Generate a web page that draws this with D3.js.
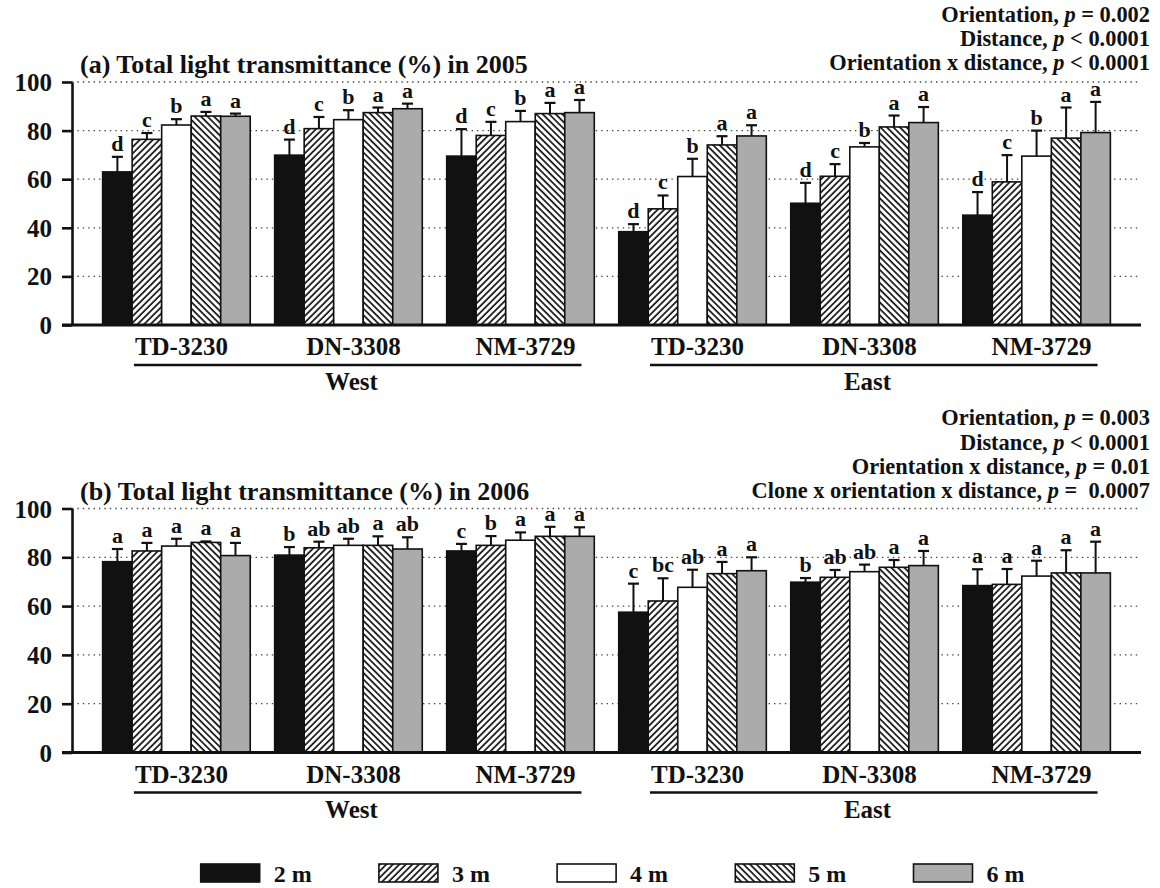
<!DOCTYPE html>
<html>
<head>
<meta charset="utf-8">
<script src="https://cdn.jsdelivr.net/npm/d3@7"></script>
<style>
  html, body { margin: 0; padding: 0; background: #fff; }
  svg { display: block; }
  text { font-family: "Liberation Serif", "Times New Roman", serif; font-weight: bold; fill: #111; }
</style>
</head>
<body>
<svg id="chart" width="1160" height="888"></svg>
<script>
// ---- data -------------------------------------------------------------
const clones = ["TD-3230", "DN-3308", "NM-3729", "TD-3230", "DN-3308", "NM-3729"];
const orientations = ["West", "East"];
const distances = ["2 m", "3 m", "4 m", "5 m", "6 m"];
const yTicks = [0, 20, 40, 60, 80, 100];

// mean transmittance (%) per clone group, one value per distance
const mean2005 = [
  [63.0, 76.4, 82.3, 86.0, 85.9],
  [69.9, 80.8, 84.5, 87.4, 89.0],
  [69.5, 78.0, 83.7, 87.0, 87.4],
  [38.4, 47.8, 61.1, 74.1, 77.8],
  [50.1, 61.2, 73.3, 81.5, 83.3],
  [45.2, 58.9, 69.5, 76.9, 79.2]
];
const err2005 = [
  [6.2, 2.6, 2.4, 1.7, 1.1],
  [6.4, 4.8, 3.9, 2.1, 2.1],
  [11.1, 5.6, 4.4, 4.4, 5.2],
  [3.1, 5.5, 7.3, 3.6, 4.4],
  [8.4, 5.0, 1.6, 4.7, 6.4],
  [9.5, 11.0, 10.5, 12.6, 12.6]
];
const letters2005 = [
  ["d", "c", "b", "a", "a"],
  ["d", "c", "b", "a", "a"],
  ["d", "c", "b", "a", "a"],
  ["d", "c", "b", "a", "a"],
  ["d", "c", "b", "a", "a"],
  ["d", "c", "b", "a", "a"]
];

const mean2006 = [
  [78.2, 82.6, 84.6, 86.1, 80.7],
  [80.9, 83.9, 84.9, 84.9, 83.4],
  [82.6, 84.9, 87.0, 88.6, 88.6],
  [57.5, 62.1, 67.7, 73.3, 74.5],
  [69.8, 71.8, 74.1, 75.9, 76.6],
  [68.4, 68.9, 72.3, 73.6, 73.6]
];
const err2006 = [
  [5.2, 3.3, 3.0, 0.4, 5.2],
  [3.3, 2.5, 2.7, 3.7, 4.8],
  [2.9, 3.8, 3.2, 3.9, 3.7],
  [11.7, 9.3, 7.2, 4.8, 5.5],
  [1.7, 3.0, 2.9, 3.0, 6.0],
  [6.7, 6.3, 6.3, 9.3, 12.8]
];
const letters2006 = [
  ["a", "a", "a", "a", "a"],
  ["b", "ab", "ab", "a", "ab"],
  ["c", "b", "a", "a", "a"],
  ["c", "bc", "ab", "a", "a"],
  ["b", "ab", "ab", "a", "a"],
  ["a", "a", "a", "a", "a"]
];

const titles = ["(a) Total light transmittance (%) in 2005", "(b) Total light transmittance (%) in 2006"];
const stats2005 = [
  ["Orientation, ", "=", "0.002"],
  ["Distance, ", "<", "0.0001"],
  ["Orientation x distance, ", "<", "0.0001"]
];
const stats2006 = [
  ["Orientation, ", "=", "0.003"],
  ["Distance, ", "<", "0.0001"],
  ["Orientation x distance, ", "=", "0.01"],
  ["Clone x orientation x distance, ", "=", "\u00a00.0007"]
];

// ---- layout -----------------------------------------------------------
const svg = d3.select("#chart");
const axisX = 72, plotRight = 1141;

const x0 = d3.scaleBand()
  .domain(d3.range(clones.length))
  .range([axisX, plotRight])
  .paddingInner(0.142)
  .paddingOuter(0.178);
const x1 = d3.scaleBand()
  .domain(distances)
  .range([0, x0.bandwidth()])
  .padding(0);

// fills for the five distances
const defs = svg.append("defs");
function hatch(id, angle) {
  const p = defs.append("pattern")
    .attr("id", id)
    .attr("patternUnits", "userSpaceOnUse")
    .attr("width", 4.6).attr("height", 10)
    .attr("patternTransform", `rotate(${angle})`);
  p.append("rect").attr("width", 4.6).attr("height", 10).attr("fill", "#fff");
  p.append("line").attr("x1", 1).attr("x2", 1).attr("y1", 0).attr("y2", 10)
    .attr("stroke", "#111").attr("stroke-width", 1.7);
}
hatch("hatchFwd", 45);
hatch("hatchBack", -45);
const fills = ["#111", "url(#hatchFwd)", "#fff", "url(#hatchBack)", "#ababab"];

function panel(cfg) {
  const { y0, y100, means, errs, letters, title, stats, statsY } = cfg;
  const y = d3.scaleLinear().domain([0, 100]).range([y0, y100]);
  const g = svg.append("g");

  // dotted reference lines
  g.append("g").selectAll("line")
    .data(yTicks.filter(d => d > 0))
    .join("line")
    .attr("x1", axisX).attr("x2", plotRight)
    .attr("y1", d => y(d)).attr("y2", d => y(d))
    .attr("stroke", "#444").attr("stroke-width", 1.3)
    .attr("stroke-dasharray", "1.4,4");

  // bars
  const groups = g.append("g").selectAll("g")
    .data(means.map((row, i) => ({ i, row })))
    .join("g")
    .attr("transform", d => `translate(${x0(d.i)},0)`);

  groups.selectAll("rect")
    .data(d => d.row.map((v, j) => ({ v, j })))
    .join("rect")
    .attr("x", d => x1(distances[d.j]))
    .attr("y", d => y(d.v))
    .attr("width", x1.bandwidth())
    .attr("height", d => y(0) - y(d.v))
    .attr("fill", d => fills[d.j])
    .attr("stroke", "#111").attr("stroke-width", 1.6);

  // error bars (upper half) with caps
  const eb = groups.selectAll("g.err")
    .data(d => d.row.map((v, j) => ({ v, e: errs[d.i][j], L: letters[d.i][j], j })))
    .join("g").attr("class", "err")
    .attr("transform", d => `translate(${x1(distances[d.j]) + x1.bandwidth() / 2},0)`);
  eb.append("line")
    .attr("x1", 0).attr("x2", 0)
    .attr("y1", d => y(d.v)).attr("y2", d => y(d.v + d.e))
    .attr("stroke", "#111").attr("stroke-width", 2);
  eb.append("line")
    .attr("x1", -5.5).attr("x2", 5.5)
    .attr("y1", d => y(d.v + d.e)).attr("y2", d => y(d.v + d.e))
    .attr("stroke", "#111").attr("stroke-width", 2.2);
  eb.append("text")
    .attr("x", 0).attr("y", d => y(d.v + d.e) - 6)
    .attr("text-anchor", "middle")
    .attr("font-size", 22)
    .text(d => d.L);

  // y axis
  const yAxis = d3.axisLeft(y).tickValues(yTicks).tickSize(10).tickSizeOuter(0).tickPadding(10);
  const ya = g.append("g").attr("transform", `translate(${axisX},0)`).call(yAxis);
  ya.select(".domain").attr("stroke", "#111").attr("stroke-width", 2.6);
  ya.selectAll(".tick line").attr("stroke", "#111").attr("stroke-width", 2.6);
  ya.selectAll(".tick text")
    .attr("font-family", "'Liberation Serif', 'Times New Roman', serif")
    .attr("font-weight", "bold").attr("font-size", 25).attr("fill", "#111")
    .attr("dy", "0.34em");

  // baseline
  g.append("line")
    .attr("x1", axisX - 10).attr("x2", plotRight)
    .attr("y1", y(0)).attr("y2", y(0))
    .attr("stroke", "#111").attr("stroke-width", 3);

  // clone labels
  const labels = g.append("g").selectAll("text")
    .data(clones)
    .join("text")
    .attr("x", (d, i) => x0(i) + x0.bandwidth() / 2 + 5)
    .attr("y", y(0) + 30)
    .attr("text-anchor", "middle")
    .attr("font-size", 25)
    .text(d => d);
  const boxes = labels.nodes().map(n => n.getBBox());

  // orientation brackets
  orientations.forEach((o, k) => {
    const first = k * 3, last = k * 3 + 2;
    const xs = boxes[first].x - 1, xe = boxes[last].x + boxes[last].width + 6;
    g.append("line")
      .attr("x1", xs).attr("x2", xe)
      .attr("y1", y(0) + 40).attr("y2", y(0) + 40)
      .attr("stroke", "#111").attr("stroke-width", 2.6);
    const cx = (x0(first) + x0(last) + x0.bandwidth()) / 2 + 3;
    g.append("text")
      .attr("x", cx).attr("y", y(0) + 65)
      .attr("text-anchor", "middle")
      .attr("font-size", 25)
      .text(o);
  });

  // title
  g.append("text")
    .attr("x", 80).attr("y", y100 - 9)
    .attr("font-size", 26)
    .text(title);

  // statistics block, right aligned
  const st = g.append("g").selectAll("text")
    .data(stats)
    .join("text")
    .attr("x", 1150)
    .attr("y", (d, i) => statsY[i])
    .attr("text-anchor", "end")
    .attr("font-size", 22.4)
    .attr("xml:space", "preserve");
  st.append("tspan").text(d => d[0]);
  st.append("tspan").attr("font-style", "italic").text("p");
  st.append("tspan").text(d => " " + d[1] + " " + d[2]);
}

panel({
  y0: 325, y100: 82, means: mean2005, errs: err2005, letters: letters2005,
  title: titles[0], stats: stats2005, statsY: [22, 46, 70]
});
panel({
  y0: 752.5, y100: 508.5, means: mean2006, errs: err2006, letters: letters2006,
  title: titles[1], stats: stats2006, statsY: [425, 450, 474, 498]
});

// legend
const legend = svg.append("g").selectAll("g")
  .data(distances)
  .join("g")
  .attr("transform", (d, i) => `translate(${200.7 + i * 178.2},864)`);
legend.append("rect")
  .attr("width", 59).attr("height", 18)
  .attr("fill", (d, i) => fills[i])
  .attr("stroke", "#111").attr("stroke-width", 1.6);
legend.append("text")
  .attr("x", 73).attr("y", 18)
  .attr("font-size", 24)
  .text(d => d);
</script>
</body>
</html>
